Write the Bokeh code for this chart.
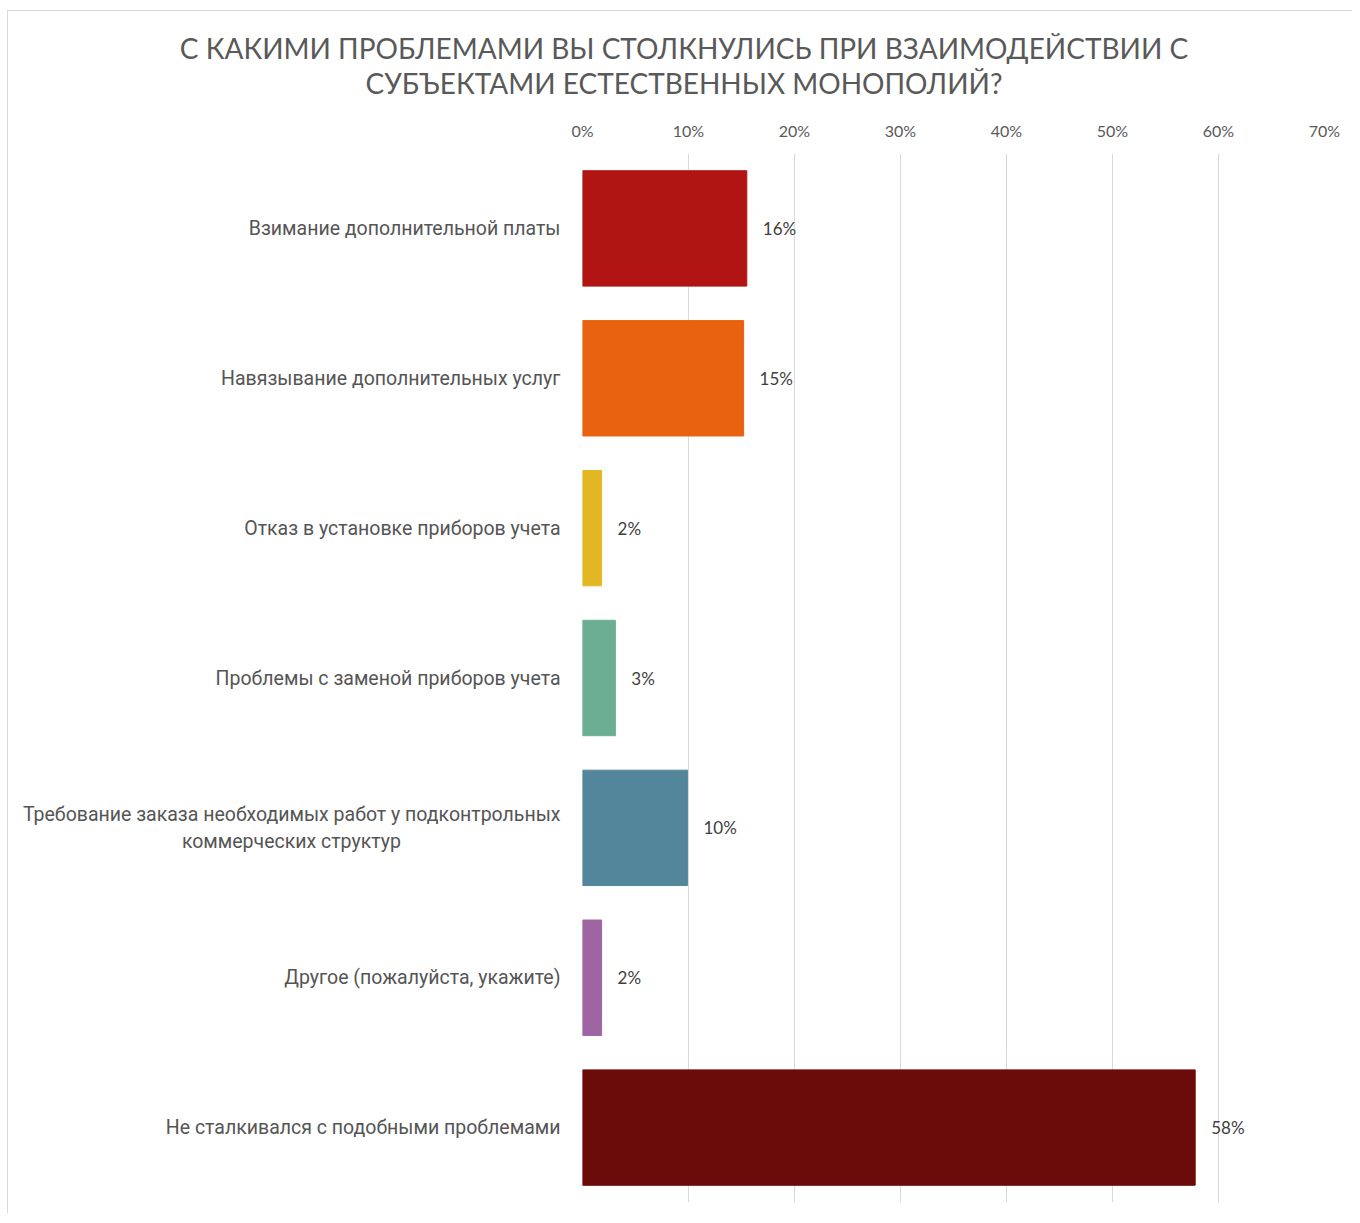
from bokeh.plotting import figure
from bokeh.models import ColumnDataSource, FactorRange, NumeralTickFormatter, FixedTicker, Div
from bokeh.layouts import column
from bokeh.core.properties import value
from bokeh.embed import file_html
from bokeh.resources import INLINE

NBSP = "\u00a0"
categories = [
    "Взимание дополнительной платы",
    "Навязывание дополнительных услуг",
    "Отказ в установке приборов учета",
    "Проблемы с заменой приборов учета",
    "Требование заказа необходимых работ у подконтрольных\nкоммерческих структур" + NBSP * 33,
    "Другое (пожалуйста, укажите)",
    "Не сталкивался с подобными проблемами",
]
shares = [0.155, 0.152, 0.018, 0.031, 0.099, 0.018, 0.578]
share_labels = ["16%", "15%", "2%", "3%", "10%", "2%", "58%"]
colors = ["#B01513", "#E8620F", "#E3B724", "#6BAE91", "#54869B", "#9E65A2", "#6B0C0A"]
x_ticks = [0, 0.1, 0.2, 0.3, 0.4, 0.5, 0.6, 0.7]
title_lines = ["С КАКИМИ ПРОБЛЕМАМИ ВЫ СТОЛКНУЛИСЬ ПРИ ВЗАИМОДЕЙСТВИИ С",
               "СУБЪЕКТАМИ ЕСТЕСТВЕННЫХ МОНОПОЛИЙ?"]

src = ColumnDataSource(dict(cat=categories, val=shares, lab=share_labels, col=colors))

W = 1344
title_h = 99
title = Div(text="<br>".join(title_lines), width=W, height=title_h, margin=0,
            styles={"font-family": "Lato", "font-size": "28px", "color": "#595959",
                    "text-align": "center", "line-height": "35px", "padding-top": "20px",
                    "padding-left": "8px", "box-sizing": "border-box", "width": f"{W}px"})

H = 1103
p = figure(width=W, height=H, output_backend="svg", toolbar_location=None,
           y_range=FactorRange(*list(reversed(categories)), range_padding=0),
           x_range=(0, 0.7), x_axis_location="above", margin=0,
           min_border_left=574, min_border_right=28, min_border_top=43, min_border_bottom=11)
p.outline_line_color = None
p.background_fill_color = "white"
p.border_fill_color = "white"

p.hbar(y="cat", right="val", left=0, height=0.77, color="col", source=src)
p.text(x="val", y="cat", text="lab", source=src, x_offset=16, text_baseline="middle",
       text_align="left", text_font=value("Lato"), text_font_size="17px", text_color="#404040")

xa = p.xaxis[0]
xa.ticker = FixedTicker(ticks=x_ticks)
xa.formatter = NumeralTickFormatter(format="0%")
xa.axis_line_color = None
xa.major_tick_line_color = None
xa.minor_tick_line_color = None
xa.major_label_text_font = "Lato"
xa.major_label_text_font_size = "16px"
xa.major_label_text_color = "#595959"
xa.major_label_standoff = 8

ya = p.yaxis[0]
ya.axis_line_color = None
ya.major_tick_line_color = None
ya.major_label_text_font = "Roboto"
ya.major_label_text_font_size = "19.5px"
ya.major_label_text_color = "#555555"
ya.major_label_standoff = 16

p.xgrid.ticker = FixedTicker(ticks=x_ticks)
p.xgrid.grid_line_color = "#D9D9D9"
p.ygrid.grid_line_color = None

root = column(title, p, spacing=0,
              styles={"margin-left": "7px", "margin-top": "10px",
                      "border-left": "1px solid #D9D9D9", "border-top": "1px solid #D9D9D9",
                      "background-color": "white"})

open("out.html", "w").write(file_html(root, INLINE))
